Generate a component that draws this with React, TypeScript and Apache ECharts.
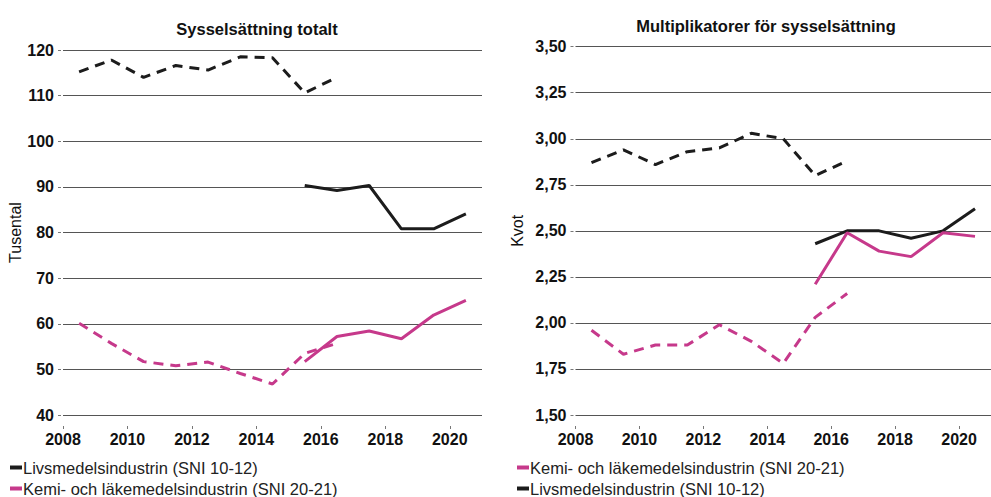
import React, { useEffect, useRef } from "react";
import * as echarts from "echarts";

// Years (each value is centred in its year band)
const yearsEarly = [2008, 2009, 2010, 2011, 2012, 2013, 2014, 2015, 2016];
const yearsLate = [2015, 2016, 2017, 2018, 2019, 2020];
const tickYears = [2008, 2010, 2012, 2014, 2016, 2018, 2020];

const nameLivs = "Livsmedelsindustrin (SNI 10-12)";
const nameKemi = "Kemi- och läkemedelsindustrin (SNI 20-21)";

// Sysselsättning totalt (tusental)
const livsTotalEarly = [115.2, 117.8, 114.0, 116.6, 115.6, 118.5, 118.3, 110.6, 114.0];
const livsTotalLate = [90.3, 89.2, 90.3, 80.8, 80.8, 84.1];
const kemiTotalEarly = [60.1, 55.7, 51.7, 50.8, 51.6, 49.1, 46.8, 53.5, 55.7];
const kemiTotalLate = [51.7, 57.2, 58.4, 56.7, 61.9, 65.1];

// Multiplikatorer (kvot)
const livsMultEarly = [2.87, 2.94, 2.86, 2.93, 2.95, 3.03, 3.0, 2.8, 2.88];
const livsMultLate = [2.43, 2.5, 2.5, 2.46, 2.5, 2.62];
const kemiMultEarly = [1.96, 1.83, 1.88, 1.88, 1.99, 1.9, 1.78, 2.03, 2.16];
const kemiMultLate = [2.21, 2.49, 2.39, 2.36, 2.49, 2.47];

const BLACK = "#1c1c1c";
const PINK = "#c6398b";
const FONT = "'Liberation Sans', Arial, sans-serif";
const GRID_COLOR = "#555555";

const pts = (years: number[], vals: number[]) => years.map((y, i) => [y + 0.5, vals[i]]);

function lineSeries(name: string, color: string, data: number[][], dashed: boolean, idx: number) {
  return {
    type: "line",
    name,
    xAxisIndex: idx,
    yAxisIndex: idx,
    data,
    showSymbol: false,
    symbol: "none",
    itemStyle: { color },
    lineStyle: { color, width: 3, type: dashed ? [10, 7] : "solid", cap: "butt" },
    z: 3,
  };
}

export default function App() {
  const ref = useRef<HTMLDivElement>(null);
  useEffect(() => {
    if (!ref.current) return;
    const chart = echarts.init(ref.current, undefined, { renderer: "svg" });
    const xAxisCommon = {
      type: "value",
      min: 2008,
      max: 2021,
      offset: 11,
      axisLine: { show: false },
      axisTick: { show: true, length: 3, customValues: tickYears, lineStyle: { color: "#777" } },
      axisLabel: {
        customValues: tickYears,
        margin: 5,
        fontFamily: FONT,
        fontSize: 16,
        fontWeight: "bold",
        color: "#111",
        formatter: (v: number) => String(v),
      },
      splitLine: { show: false },
    };
    const legendCommon = {
      orient: "vertical",
      top: 459,
      height: 40,
      itemWidth: 12,
      itemHeight: 4,
      itemGap: 4,
      icon: "rect",
      selectedMode: false,
      padding: 0,
      textStyle: {
        fontFamily: FONT,
        fontSize: 16.5,
        color: "#222",
        lineHeight: 17,
        padding: [0, 0, 0, -4],
      },
    };
    const option = {
      animation: false,
      title: [
        {
          text: "Sysselsättning totalt",
          left: 252,
          textAlign: "center",
          top: 15,
          textStyle: { fontFamily: FONT, fontSize: 16.5, fontWeight: "bold", color: "#111" },
        },
        {
          text: "Multiplikatorer för sysselsättning",
          left: 761,
          textAlign: "center",
          top: 12,
          textStyle: { fontFamily: FONT, fontSize: 16.5, fontWeight: "bold", color: "#111" },
        },
      ],
      grid: [
        { left: 63, right: 509, top: 50, bottom: 82 },
        { left: 575.5, right: -3, top: 46.7, bottom: 82 },
      ],
      xAxis: [
        { ...xAxisCommon, gridIndex: 0 },
        { ...xAxisCommon, gridIndex: 1 },
      ],
      yAxis: [
        {
          type: "value",
          gridIndex: 0,
          min: 40,
          max: 120,
          interval: 10,
          offset: 2,
          name: "Tusental",
          nameLocation: "middle",
          nameGap: 35,
          nameTextStyle: { fontFamily: FONT, fontSize: 16, color: "#111" },
          axisLine: { show: false },
          axisTick: { show: true, length: 3, lineStyle: { color: "#777" } },
          axisLabel: { margin: 7, fontFamily: FONT, fontSize: 16, fontWeight: "bold", color: "#111" },
          splitLine: { show: true, lineStyle: { color: GRID_COLOR, width: 1 } },
        },
        {
          type: "value",
          gridIndex: 1,
          min: 1.5,
          max: 3.5,
          interval: 0.25,
          offset: 2,
          name: "Kvot",
          nameLocation: "middle",
          nameGap: 48,
          nameTextStyle: { fontFamily: FONT, fontSize: 16, color: "#111" },
          axisLine: { show: false },
          axisTick: { show: true, length: 3, lineStyle: { color: "#777" } },
          axisLabel: {
            margin: 7,
            fontFamily: FONT,
            fontSize: 16,
            fontWeight: "bold",
            color: "#111",
            formatter: (v: number) => v.toFixed(2).replace(".", ","),
          },
          splitLine: { show: true, lineStyle: { color: GRID_COLOR, width: 1 } },
        },
      ],
      legend: [
        { ...legendCommon, left: 10, data: [nameLivs, nameKemi] },
        { ...legendCommon, left: 517, data: [nameKemi, nameLivs] },
      ],
      series: [
        lineSeries(nameLivs, BLACK, pts(yearsEarly, livsTotalEarly), true, 0),
        lineSeries(nameLivs, BLACK, pts(yearsLate, livsTotalLate), false, 0),
        lineSeries(nameKemi, PINK, pts(yearsEarly, kemiTotalEarly), true, 0),
        lineSeries(nameKemi, PINK, pts(yearsLate, kemiTotalLate), false, 0),
        lineSeries(nameLivs, BLACK, pts(yearsEarly, livsMultEarly), true, 1),
        lineSeries(nameLivs, BLACK, pts(yearsLate, livsMultLate), false, 1),
        lineSeries(nameKemi, PINK, pts(yearsEarly, kemiMultEarly), true, 1),
        lineSeries(nameKemi, PINK, pts(yearsLate, kemiMultLate), false, 1),
      ],
    };
    chart.setOption(option as any);
    return () => chart.dispose();
  }, []);
  return (
    <div
      ref={ref}
      style={{ position: "absolute", left: 0, top: 0, width: 991, height: 497, background: "#fff" }}
    />
  );
}
